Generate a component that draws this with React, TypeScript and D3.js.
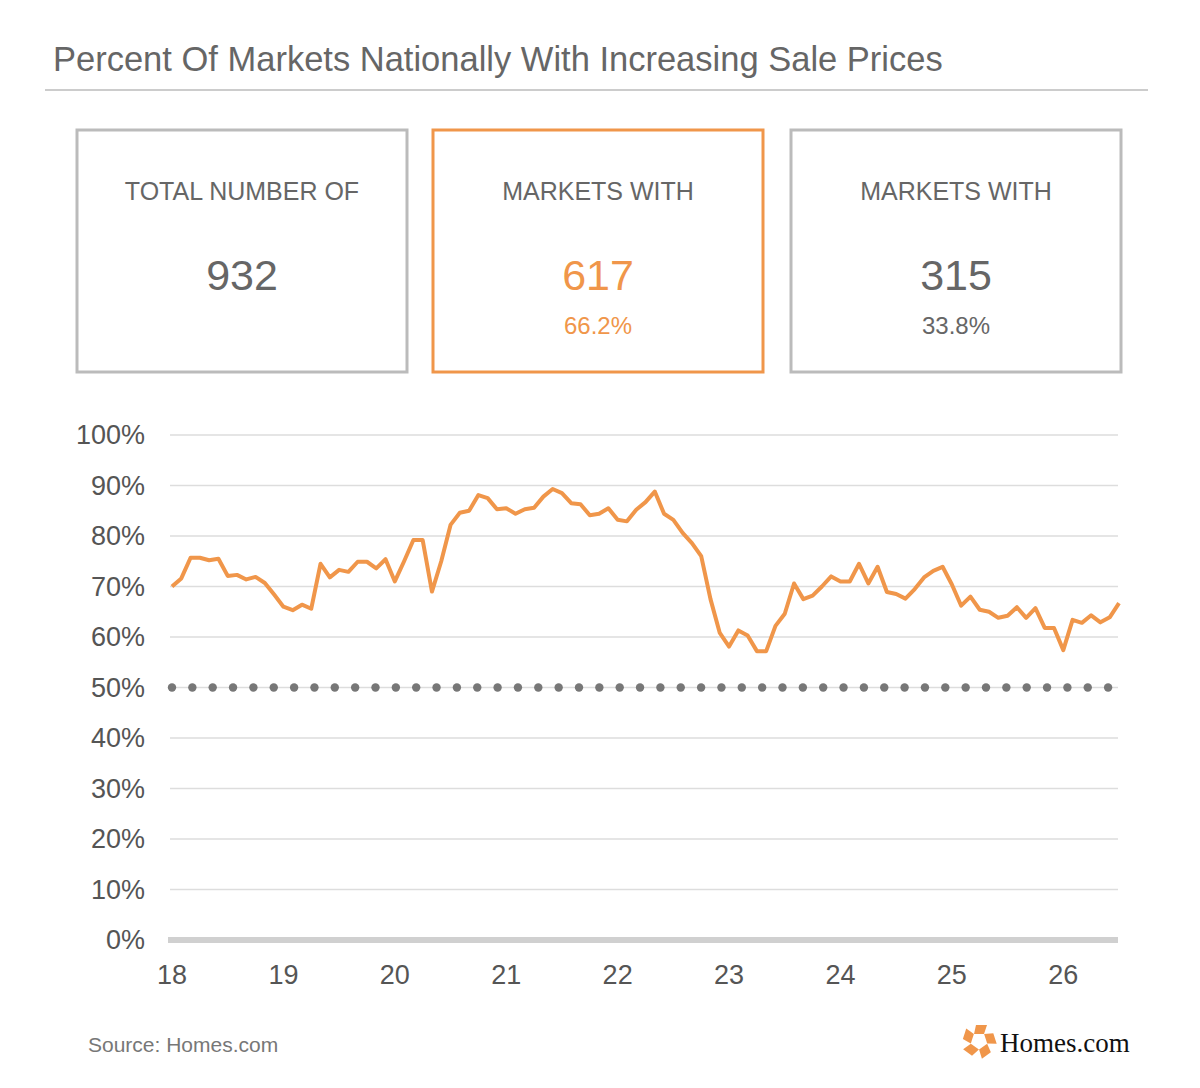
import React from 'react';
import * as d3 from 'd3';

const values = [
  70.0, 71.6, 75.7, 75.7, 75.2, 75.5, 72.1, 72.3, 71.4, 71.9, 70.7, 68.4, 66.0, 65.3, 66.4, 65.6,
  74.5, 71.8, 73.3, 72.9, 74.9, 74.9, 73.6, 75.4, 71.0, 75.0, 79.2, 79.2, 69.0, 75.0, 82.2, 84.6,
  85.0, 88.1, 87.5, 85.3, 85.5, 84.4, 85.3, 85.6, 87.8, 89.3, 88.5, 86.5, 86.3, 84.1, 84.4, 85.5,
  83.2, 82.9, 85.2, 86.7, 88.8, 84.4, 83.2, 80.6, 78.6, 76.0, 67.5, 60.8, 58.1, 61.3, 60.3, 57.2,
  57.2, 62.2, 64.6, 70.6, 67.5, 68.2, 70.0, 72.0, 71.0, 71.0, 74.5, 70.6, 73.9, 68.9, 68.5, 67.6,
  69.5, 71.8, 73.1, 73.9, 70.4, 66.2, 68.0, 65.4, 65.0, 63.8, 64.2, 65.9, 63.8, 65.7, 61.8, 61.8,
  57.4, 63.4, 62.8, 64.3, 62.9, 63.9, 66.7,
];
const yTicks = [0, 10, 20, 30, 40, 50, 60, 70, 80, 90, 100];
const xTicks = [18, 19, 20, 21, 22, 23, 24, 25, 26];
const threshold = 50;
const cards = [
  { head: 'TOTAL NUMBER OF', value: '932', pct: '', accent: false },
  { head: 'MARKETS WITH', value: '617', pct: '66.2%', accent: true },
  { head: 'MARKETS WITH', value: '315', pct: '33.8%', accent: false },
];

const ORANGE = '#f0964a';
const FONT = '"Liberation Sans", Arial, sans-serif';

export default function App() {
  const x = d3.scaleLinear().domain([18, 26.5]).range([172, 1119]);
  const y = d3.scaleLinear().domain([0, 100]).range([940, 435]);
  const pts = values.map((v, i) => [18 + (i * 8.5) / (values.length - 1), v] as [number, number]);
  const line = d3.line<[number, number]>().x(d => x(d[0])).y(d => y(d[1]));
  const dots = d3.range(0, 47).map(i => 172 + i * 20.35);
  const cardX = [77, 433, 791];

  return (
    <div style={{ margin: -8 }}>
      <svg width={1200} height={1088} style={{ display: 'block', fontFamily: FONT }}>
        <rect x={0.5} y={0.5} width={1199} height={1087} fill="#fff" stroke="#ccc" />
        <text x={53} y={71} fontSize={34.5} fill="#666">Percent Of Markets Nationally With Increasing Sale Prices</text>
        <line x1={45} x2={1148} y1={90} y2={90} stroke="#bbb" strokeWidth={1.5} />

        {cards.map((c, i) => {
          const cx = cardX[i] + 165;
          const col = c.accent ? ORANGE : '#666';
          return (
            <g key={i}>
              <rect x={cardX[i]} y={130} width={330} height={242} fill="none"
                stroke={c.accent ? ORANGE : '#bbb'} strokeWidth={3} />
              <text x={cx} y={200} textAnchor="middle" fontSize={25} fill="#666">{c.head}</text>
              <text x={cx} y={290} textAnchor="middle" fontSize={43} fill={col}>{c.value}</text>
              {c.pct && <text x={cx} y={334} textAnchor="middle" fontSize={24} fill={col}>{c.pct}</text>}
            </g>
          );
        })}

        {yTicks.map(t => (
          <g key={t}>
            {t > 0 && <line x1={170} x2={1118} y1={y(t)} y2={y(t)} stroke="#ddd" strokeWidth={1.5} />}
            <text x={145} y={y(t) + 9} textAnchor="end" fontSize={27} fill="#555">{t}%</text>
          </g>
        ))}
        <line x1={168} x2={1118} y1={y(0)} y2={y(0)} stroke="#d0d0d0" strokeWidth={6} />
        {xTicks.map(t => (
          <text key={t} x={x(t)} y={984} textAnchor="middle" fontSize={27} fill="#555">{t}</text>
        ))}
        {dots.map((dx, i) => (
          <circle key={i} cx={dx} cy={y(threshold)} r={4.2} fill="#777" />
        ))}
        <path d={line(pts) || ''} fill="none" stroke={ORANGE} strokeWidth={4} strokeLinejoin="round" />

        <text x={88} y={1052} fontSize={21} fill="#777">Source: Homes.com</text>
        <g transform="translate(979,1041)" fill={ORANGE}>
          {d3.range(5).map(i => (
            <path key={i} transform={`rotate(${i * 72})`} d="M-5,-7 L5,-7 L8,-16 L-3,-16 Z" />
          ))}
        </g>
        <text x={1000} y={1052} fontSize={27} fill="#111" fontFamily='"Liberation Serif", serif'>Homes.com</text>
      </svg>
    </div>
  );
}
